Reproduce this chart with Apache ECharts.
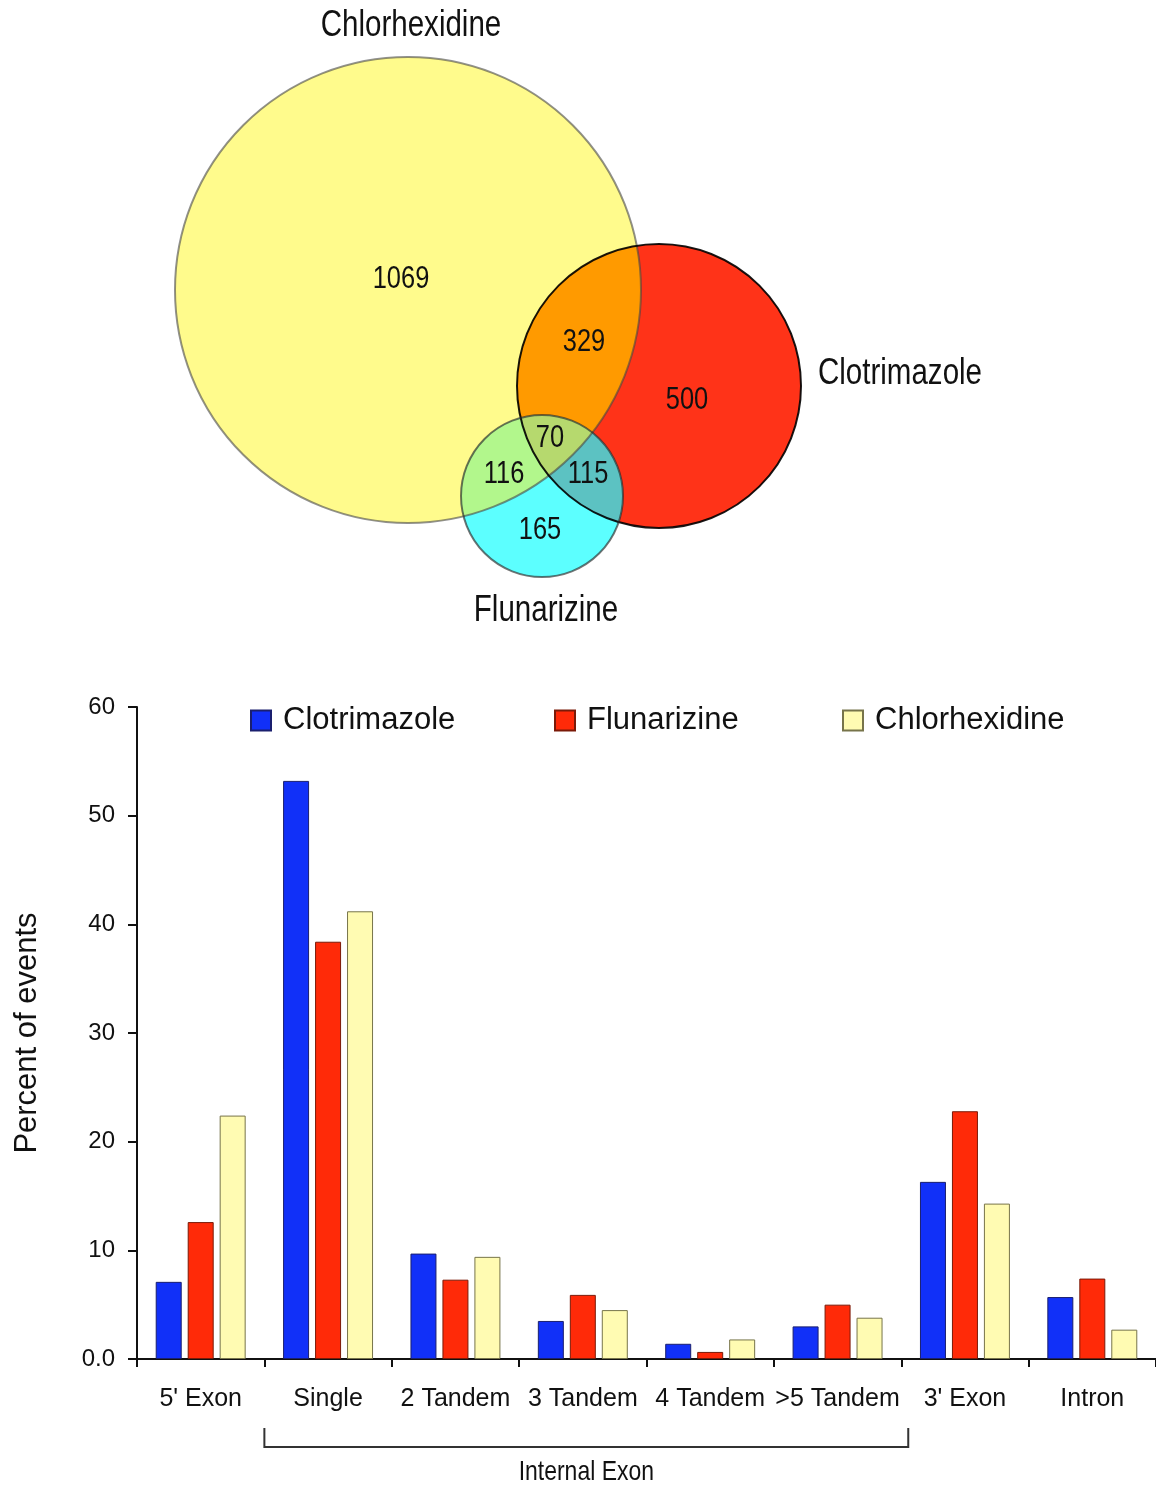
<!DOCTYPE html>
<html><head><meta charset="utf-8">
<script src="https://cdn.jsdelivr.net/npm/echarts@6/dist/echarts.min.js"></script>
<style>html,body{margin:0;padding:0;background:#fff}#c{width:1156px;height:1486px}</style>
</head><body><div id="c"></div>
<script>
// ---------- DATA ----------
const categories = ["5' Exon", "Single", "2 Tandem", "3 Tandem", "4 Tandem", ">5 Tandem", "3' Exon", "Intron"];
const seriesNames = ["Clotrimazole", "Flunarizine", "Chlorhexidine"];
const clotrimazole = [7.1, 53.2, 9.7, 3.5, 1.4, 3.0, 16.3, 5.7];
const flunarizine = [12.6, 38.4, 7.3, 5.9, 0.65, 5.0, 22.8, 7.4];
const chlorhexidine = [22.4, 41.2, 9.4, 4.5, 1.8, 3.8, 14.3, 2.7];
const yAxisMax = 60, yAxisStep = 10;
const groupLabel = "Internal Exon";
const groupFrom = "Single", groupTo = ">5 Tandem";

// Venn: set names and region counts
const vennSets = ["Chlorhexidine", "Clotrimazole", "Flunarizine"];
const vennRegionSets = [[0], [1], [2], [0, 1], [0, 2], [1, 2], [0, 1, 2]];
const vennCounts = [1069, 500, 165, 329, 116, 115, 70];

// ---------- LAYOUT / STYLE ----------
const SANS = "'Liberation Sans',Arial,Helvetica,sans-serif";
const NARROW_SCALE = 0.82;
const barColors = ['#1130F8', '#FF2A08', '#FFFBB2'];
const barBorders = ['#1a1f6e', '#7a1a08', '#77744a'];
// venn diagram geometry in diagram units (grid 0)
const vennCircles = [{cx: 408, cy: 290, r: 233}, {cx: 659, cy: 386, r: 142}, {cx: 542, cy: 496, r: 81}];
const vennStroke = ['rgba(70,70,70,0.6)', 'rgba(0,0,0,0.9)', 'rgba(40,40,40,0.65)'];
const vennRegionColors = ['#FFFB8C', '#FF3318', '#5CFFFF', '#FF9A00', '#B2F78C', '#5CC2C2', '#B6D96E'];
const vennCountPos = [[401, 279], [687, 400], [540, 530], [584, 342], [504, 474], [588, 474], [550, 438]];
const vennSetLabelPos = [[411, 26], [900, 374], [546, 611]];
const legendLefts = [250, 554, 842];

function regionPolygon(ids) {
  const C = vennCircles, pts = [];
  ids.forEach(i => {
    const c = C[i];
    for (let k = 0; k < 1440; k++) {
      const a = k / 1440 * Math.PI * 2;
      const p = [c.cx + c.r * Math.cos(a), c.cy + c.r * Math.sin(a)];
      if (ids.every(j => j === i || Math.hypot(p[0] - C[j].cx, p[1] - C[j].cy) <= C[j].r + 1e-6)) pts.push(p);
    }
  });
  const mx = pts.reduce((s, p) => s + p[0], 0) / pts.length;
  const my = pts.reduce((s, p) => s + p[1], 0) / pts.length;
  pts.sort((a, b) => Math.atan2(a[1] - my, a[0] - mx) - Math.atan2(b[1] - my, b[0] - mx));
  return pts;
}
const regionPolys = vennRegionSets.map(ids => ids.length > 1 ? regionPolygon(ids) : null);

function narrowText(x, y, text, size) {
  return {type: 'text', x: x, y: y, scaleX: NARROW_SCALE, scaleY: 1,
    style: {text: text, fontSize: size, fontFamily: SANS, fill: '#111',
      align: 'center', verticalAlign: 'middle', textAlign: 'center', textVerticalAlign: 'middle'}};
}

const chart = echarts.init(document.getElementById('c'), null, {renderer: 'canvas'});

const option = {
  animation: false,
  backgroundColor: '#fff',
  grid: [
    {left: 0, top: 0, width: 1156, height: 640, outerBoundsMode: 'none', containLabel: false},
    {left: 137, right: 0, top: 707, bottom: 127, outerBoundsMode: 'none', containLabel: false}
  ],
  xAxis: [
    {type: 'value', gridIndex: 0, min: 0, max: 1156, show: false},
    {type: 'category', gridIndex: 1, data: categories,
      axisLine: {lineStyle: {color: '#111', width: 2}},
      axisTick: {show: true, length: 8, lineStyle: {color: '#111', width: 2}},
      axisLabel: {interval: 0, fontSize: 25, fontFamily: SANS, color: '#111', margin: 28}}
  ],
  yAxis: [
    {type: 'value', gridIndex: 0, min: 0, max: 640, inverse: true, show: false},
    {type: 'value', gridIndex: 1, min: 0, max: yAxisMax, interval: yAxisStep,
      name: 'Percent of events', nameLocation: 'middle', nameRotate: 90, nameGap: 94,
      nameTextStyle: {fontSize: 31, fontFamily: SANS, color: '#111'},
      axisLine: {show: true, lineStyle: {color: '#111', width: 2}},
      axisTick: {show: true, length: 9, lineStyle: {color: '#111', width: 2}},
      splitLine: {show: false},
      axisLabel: {fontSize: 24, fontFamily: SANS, color: '#111', margin: 22,
        formatter: v => v === 0 ? '0.0' : String(v)}}
  ],
  legend: seriesNames.map((n, i) => ({
    data: [n], left: legendLefts[i], top: 705, itemWidth: 20, itemHeight: 20,
    icon: 'rect', padding: 0,
    textStyle: {fontSize: 31, fontFamily: SANS, color: '#111', padding: [0, 0, 0, 7]}
  })),
  series: [
    // venn fills
    {type: 'custom', name: 'venn-fill', xAxisIndex: 0, yAxisIndex: 0, silent: true, z: 1,
      data: vennRegionSets.map((s, i) => [0, 0, i]),
      renderItem: (params, api) => {
        const i = api.value(2);
        const ids = vennRegionSets[i];
        if (ids.length === 1) {
          const c = vennCircles[ids[0]];
          const p = api.coord([c.cx, c.cy]);
          const r = api.size([c.r, 0])[0];
          return {type: 'circle', z2: i, shape: {cx: p[0], cy: p[1], r: r}, style: {fill: vennRegionColors[i]}};
        }
        return {type: 'polygon', z2: i, shape: {points: regionPolys[i].map(q => api.coord(q))},
          style: {fill: vennRegionColors[i]}};
      }},
    // venn outlines
    {type: 'custom', name: 'venn-outline', xAxisIndex: 0, yAxisIndex: 0, silent: true, z: 2,
      data: vennCircles.map((c, i) => [c.cx, c.cy, i]),
      renderItem: (params, api) => {
        const i = api.value(2);
        const c = vennCircles[i];
        const p = api.coord([c.cx, c.cy]);
        const r = api.size([c.r, 0])[0];
        return {type: 'circle', shape: {cx: p[0], cy: p[1], r: r},
          style: {fill: 'none', stroke: vennStroke[i], lineWidth: 2}};
      }},
    // venn count labels
    {type: 'custom', name: 'venn-counts', xAxisIndex: 0, yAxisIndex: 0, silent: true, z: 3,
      data: vennCounts.map((v, i) => [vennCountPos[i][0], vennCountPos[i][1], v]),
      renderItem: (params, api) => {
        const p = api.coord([api.value(0), api.value(1)]);
        return narrowText(p[0], p[1], String(api.value(2)), 31);
      }},
    // venn set labels
    {type: 'custom', name: 'venn-sets', xAxisIndex: 0, yAxisIndex: 0, silent: true, z: 3,
      data: vennSets.map((s, i) => [vennSetLabelPos[i][0], vennSetLabelPos[i][1], i]),
      renderItem: (params, api) => {
        const p = api.coord([api.value(0), api.value(1)]);
        return narrowText(p[0], p[1], vennSets[api.value(2)], 36);
      }},
    // bars
    ...[clotrimazole, flunarizine, chlorhexidine].map((d, i) => ({
      type: 'bar', name: seriesNames[i], xAxisIndex: 1, yAxisIndex: 1, data: d,
      barWidth: 26, barGap: '23%',
      itemStyle: {color: barColors[i], borderColor: barBorders[i], borderWidth: 1}
    }))
  ]
};
chart.setOption(option);

// group bracket below the category axis
const iFrom = categories.indexOf(groupFrom), iTo = categories.indexOf(groupTo);
const pA = chart.convertToPixel({xAxisIndex: 1, yAxisIndex: 1}, [iFrom, 0]);
const pB = chart.convertToPixel({xAxisIndex: 1, yAxisIndex: 1}, [iFrom + 1, 0]);
const pC = chart.convertToPixel({xAxisIndex: 1, yAxisIndex: 1}, [iTo, 0]);
const band = pB[0] - pA[0];
const x1 = pA[0] - band / 2, x2 = pC[0] + band / 2 + 7, y0 = pA[1];
chart.setOption({
  graphic: [
    {type: 'polyline', silent: true,
      shape: {points: [[x1, y0 + 69], [x1, y0 + 88], [x2, y0 + 88], [x2, y0 + 69]]},
      style: {stroke: '#333', lineWidth: 2, fill: null}},
    Object.assign(narrowText((x1 + x2) / 2, y0 + 113, groupLabel, 28), {silent: true})
  ]
});
</script></body></html>
